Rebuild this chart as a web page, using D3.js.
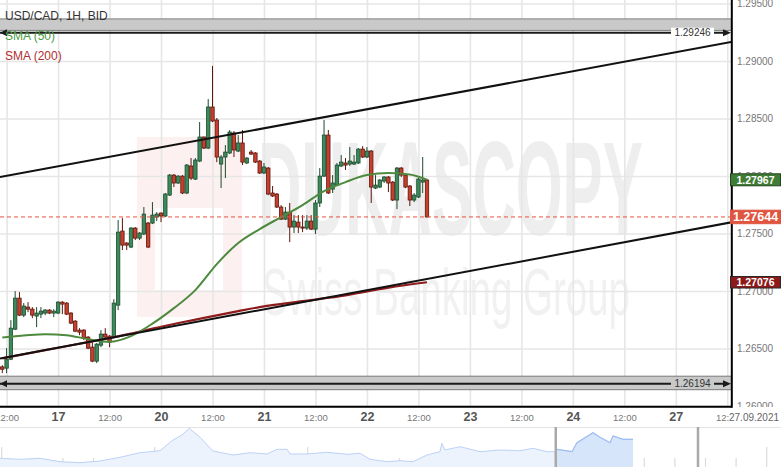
<!DOCTYPE html>
<html><head><meta charset="utf-8">
<script src="https://cdn.jsdelivr.net/npm/d3@7"></script>
<style>
html,body{margin:0;padding:0;background:#fff;}
svg{display:block;font-family:"Liberation Sans",Arial,Helvetica,sans-serif;}
</style></head><body>
<svg id="chart" width="781" height="467"></svg>
<script>
// ---------- DATA ----------
const openP=[1.26340,1.26329,1.26407,1.26668,1.26938,1.26790,1.26860,1.26842,1.26782,1.26799,
 1.26808,1.26834,1.26808,1.26808,1.26903,1.26895,1.26808,1.26738,1.26660,1.26660,
 1.26599,1.26512,1.26390,1.26529,1.26625,1.26608,1.26599,1.26877,1.27521,1.27417,
 1.27382,1.27547,1.27460,1.27495,1.27591,1.27591,1.27643,1.27678,1.27652,1.27834,
 1.28008,1.27939,1.27999,1.27852,1.28087,1.27973,1.28130,1.28339,1.28243,1.28600,
 1.28487,1.28104,1.28165,1.28200,1.28374,1.28217,1.28287,1.28113,1.28208,1.28200,
 1.28130,1.28026,1.28069,1.27852,1.27843,1.27730,1.27625,1.27686,1.27556,1.27599,
 1.27556,1.27547,1.27608,1.27538,1.27765,1.27999,1.28356,1.27886,1.27921,1.28087,
 1.28113,1.28104,1.28104,1.28113,1.28234,1.28165,1.28217,1.27895,1.27904,1.27956,
 1.27991,1.27947,1.27791,1.28069,1.28008,1.27913,1.27791,1.27817,1.27947,1.27965];
const highP=[1.26355,1.26503,1.26747,1.26999,1.26990,1.26895,1.26903,1.26860,1.26860,1.26860,
 1.26842,1.26842,1.26842,1.26912,1.26912,1.26903,1.26816,1.26747,1.26677,1.26668,
 1.26608,1.26555,1.26547,1.26660,1.26677,1.26616,1.26929,1.27617,1.27634,1.27425,
 1.27556,1.27556,1.27512,1.27730,1.27599,1.27773,1.27686,1.27682,1.27852,1.28017,
 1.28017,1.28008,1.28008,1.28104,1.28156,1.28156,1.28469,1.28343,1.28669,1.28957,
 1.28504,1.28182,1.28269,1.28400,1.28391,1.28356,1.28400,1.28165,1.28226,1.28208,
 1.28139,1.28113,1.28078,1.27913,1.27852,1.27747,1.27730,1.27765,1.27660,1.27660,
 1.27660,1.27660,1.27660,1.27791,1.28069,1.28487,1.28400,1.28008,1.28113,1.28182,
 1.28156,1.28252,1.28182,1.28243,1.28260,1.28252,1.28226,1.28008,1.27973,1.27999,
 1.27999,1.27956,1.28078,1.28078,1.28017,1.27921,1.27852,1.27982,1.28165,1.27973];
const lowP=[1.26286,1.26286,1.26399,1.26660,1.26782,1.26773,1.26816,1.26764,1.26686,1.26764,
 1.26790,1.26799,1.26773,1.26799,1.26799,1.26790,1.26712,1.26642,1.26616,1.26573,
 1.26494,1.26381,1.26373,1.26512,1.26573,1.26512,1.26590,1.26834,1.27356,1.27356,
 1.27373,1.27443,1.27443,1.27486,1.27373,1.27582,1.27608,1.27599,1.27643,1.27826,
 1.27904,1.27930,1.27843,1.27843,1.27965,1.27965,1.28121,1.28234,1.28234,1.28469,
 1.28121,1.27895,1.27982,1.28191,1.28165,1.28208,1.28095,1.28104,1.28182,1.28113,
 1.28017,1.28017,1.27834,1.27817,1.27721,1.27617,1.27617,1.27425,1.27504,1.27504,
 1.27512,1.27530,1.27530,1.27495,1.27730,1.27991,1.27843,1.27852,1.27913,1.28078,
 1.28052,1.28087,1.28095,1.28104,1.28156,1.28156,1.27765,1.27886,1.27895,1.27939,
 1.27860,1.27782,1.27712,1.27991,1.27895,1.27739,1.27773,1.27808,1.27852,1.27640];
const closeP=[1.26320,1.26407,1.26677,1.26938,1.26790,1.26869,1.26842,1.26790,1.26808,1.26825,
 1.26834,1.26808,1.26825,1.26903,1.26886,1.26799,1.26721,1.26651,1.26642,1.26590,
 1.26503,1.26390,1.26538,1.26625,1.26599,1.26555,1.26895,1.27512,1.27399,1.27399,
 1.27547,1.27460,1.27504,1.27669,1.27382,1.27660,1.27669,1.27652,1.27843,1.28008,
 1.27939,1.27999,1.27852,1.28095,1.27982,1.28139,1.28339,1.28243,1.28600,1.28478,
 1.28165,1.28165,1.28208,1.28382,1.28226,1.28287,1.28121,1.28156,1.28191,1.28121,
 1.28026,1.28078,1.27843,1.27826,1.27730,1.27625,1.27686,1.27556,1.27608,1.27556,
 1.27547,1.27608,1.27538,1.27765,1.27999,1.28356,1.27852,1.27939,1.28095,1.28121,
 1.28095,1.28130,1.28121,1.28234,1.28165,1.28217,1.27904,1.27921,1.27965,1.27991,
 1.27939,1.27791,1.28069,1.28008,1.27904,1.27791,1.27834,1.27973,1.27965,1.27644];

const sma50Idx=[0,5,10,15,20,25,30,35,40,45,50,55,60,65,70,75,80,85,90,95,99];
const sma50Val=[1.26596,1.26612,1.26625,1.26616,1.26581,1.26558,1.26608,1.26716,1.26851,1.27008,
 1.27234,1.27417,1.27538,1.27643,1.27747,1.27869,1.27947,1.28008,1.28026,1.28013,1.27967];
const sma200Idx=[0,10,20,30,35,45,55,60,70,80,90,99];
const sma200Val=[1.26414,1.26486,1.26555,1.26629,1.26673,1.26751,1.26825,1.26860,1.26912,1.26962,1.27029,1.27076];

const upperTrend=[[-0.54,1.27991],[169.9,1.29165]];
const lowerTrend=[[-0.54,1.26413],[169.9,1.27597]];
const resistance=1.29246, support=1.26194;
const lastPrice=1.27644, sma50Last=1.27967, sma200Last=1.27076;

const yTicks=[1.26,1.265,1.27,1.275,1.28,1.285,1.29,1.295];
const xTickIdx=[1,13,25,37,49,61,73,85,97,109,121,133,145,157,169];
const xTickLabels=["12:00","17","12:00","20","12:00","21","12:00","22","12:00","23","12:00","24","12:00","27","12:00"];
const dateLabel="27.09.2021";

const navHours=[0,8,16,24,32,40,48,56,64,69.2,72.8,75.7,80,85.2,93.2,100,106.8,110.8,114.8,116,122.8,130.8,138.8,144,
 148,154.8,160,165.2,170.8,176,176.7,178,184,192,200,208,213.2,218.8,222,222.8,228.8,230.8,237.2,240,244,245.2,249.2,253.2];
const navVals=[1.26761,1.26674,1.26761,1.26464,1.26376,1.26525,1.26849,1.27251,1.27426,1.28363,1.28800,1.29386,1.28599,1.27400,1.27050,1.27251,
 1.27138,1.27549,1.27549,1.27138,1.27138,1.27286,1.27111,1.27199,1.26674,1.26464,1.26551,1.26464,1.27050,1.27339,1.28074,1.27488,
 1.27776,1.27339,1.27488,1.27426,1.27636,1.27339,1.27339,1.27549,1.27339,1.28126,1.29001,1.28599,1.28126,1.28713,1.28424,1.28424];
const navSel=[222.3,279.2];

// ---------- LAYOUT ----------
const plotW=731, plotH=406;
const svg=d3.select("#chart");
const x=d3.scaleLinear().domain([0,99]).range([2.3,427]);
const y=d3.scaleLinear().domain([1.26,1.29]).range([406,61]);
const candles=openP.map((o,i)=>({i,o,h:highP[i],l:lowP[i],c:closeP[i]}));

const defs=svg.append("defs");
defs.append("clipPath").attr("id","plotClip").append("rect").attr("x",0).attr("y",0).attr("width",plotW).attr("height",plotH);
defs.append("clipPath").attr("id","yClip").append("rect").attr("x",0).attr("y",0).attr("width",60).attr("height",407);

// watermark
const wm=svg.append("g").attr("clip-path","url(#plotClip)");
wm.append("rect").attr("x",137).attr("y",137).attr("width",105).attr("height",180).attr("fill","#fdf0f0");
wm.append("rect").attr("x",155).attr("y",208).attr("width",68).attr("height",82).attr("fill","#ffffff");
wm.append("text").attr("x",258).attr("y",235).attr("font-size",134).attr("font-weight","bold")
  .attr("textLength",385).attr("lengthAdjust","spacingAndGlyphs").attr("fill","#eeeeee").text("DUKASCOPY");
wm.append("text").attr("x",262).attr("y",315).attr("font-size",66)
  .attr("textLength",368).attr("lengthAdjust","spacingAndGlyphs").attr("fill","#f1f1f1").text("Swiss Banking Group");

// grid
const gy=svg.append("g").call(d3.axisLeft(y).tickValues(yTicks).tickSize(-plotW).tickFormat(""));
const gx=svg.append("g").attr("transform",`translate(0,${plotH})`).call(d3.axisBottom(x).tickValues(xTickIdx).tickSize(-plotH).tickFormat(""));
[gy,gx].forEach(g=>{g.select(".domain").remove();g.selectAll("line").attr("stroke","#e6e6e6").attr("stroke-width",1.6);});

const plot=svg.append("g").attr("clip-path","url(#plotClip)");

// horizontal levels
const rY=y(resistance), sY=y(support);
plot.append("rect").attr("x",-1).attr("y",rY-13.8).attr("width",plotW+2).attr("height",11.5)
  .attr("fill","#c9c9c9").attr("stroke","#7f7f7f").attr("stroke-width",1);
plot.append("rect").attr("x",-1).attr("y",sY-7.5).attr("width",plotW+2).attr("height",13.5)
  .attr("fill","#c9c9c9").attr("stroke","#7a7a7a").attr("stroke-width",1);
[[rY,"#ffffff"],[sY,"#c9c9c9"]].forEach(([ly,bg],k)=>{
  plot.append("line").attr("x1",0).attr("x2",plotW-6).attr("y1",ly).attr("y2",ly).attr("stroke","#1a1a1a").attr("stroke-width",2);
  plot.append("path").attr("d",`M0,${ly}L7,${ly-3.5}L7,${ly+3.5}Z`).attr("fill","#1a1a1a");
  plot.append("path").attr("d",`M${plotW},${ly}L${plotW-8},${ly-3.5}L${plotW-8},${ly+3.5}Z`).attr("fill","#1a1a1a");
  plot.append("rect").attr("x",671).attr("y",ly-5).attr("width",43).attr("height",10).attr("fill",bg);
  plot.append("text").attr("x",692.5).attr("y",ly+3.5).attr("text-anchor","middle").attr("font-size",10)
    .attr("fill","#333").text(d3.format(".5f")(k===0?resistance:support));
});

// candles
const cg=plot.append("g");
const up="#3b8a5b", upS="#1d4a2d", dn="#c7402e", dnS="#5e140b";
cg.selectAll("line.w").data(candles).join("line").attr("class","w")
  .attr("x1",d=>x(d.i)).attr("x2",d=>x(d.i)).attr("y1",d=>y(d.h)).attr("y2",d=>y(d.l))
  .attr("stroke",d=>d.c>=d.o?upS:dnS).attr("stroke-width",1);
cg.selectAll("rect.b").data(candles).join("rect").attr("class","b")
  .attr("x",d=>x(d.i)-1.7).attr("width",3.4)
  .attr("y",d=>y(Math.max(d.o,d.c)))
  .attr("height",d=>Math.max(1,y(Math.min(d.o,d.c))-y(Math.max(d.o,d.c))))
  .attr("fill",d=>d.c>=d.o?up:dn).attr("stroke",d=>d.c>=d.o?upS:dnS).attr("stroke-width",0.8);

// SMAs
const line=d3.line().x(d=>x(d[0])).y(d=>y(d[1])).curve(d3.curveMonotoneX);
plot.append("path").attr("d",line(sma200Idx.map((v,i)=>[v,sma200Val[i]]))).attr("fill","none").attr("stroke","#8e1c1c").attr("stroke-width",2.2);
plot.append("path").attr("d",line(sma50Idx.map((v,i)=>[v,sma50Val[i]]))).attr("fill","none").attr("stroke","#4e8a3e").attr("stroke-width",2);

// trend lines
const tl=d3.line().x(d=>x(d[0])).y(d=>y(d[1]));
[upperTrend,lowerTrend].forEach(t=>plot.append("path").attr("d",tl(t)).attr("fill","none").attr("stroke","#111").attr("stroke-width",2));

// price line
plot.append("line").attr("x1",0).attr("x2",plotW).attr("y1",y(lastPrice)).attr("y2",y(lastPrice))
  .attr("stroke","#e5533d").attr("stroke-width",1).attr("stroke-dasharray","4,3");

// legend
const lg=svg.append("g").attr("font-size",12);
lg.append("text").attr("x",5).attr("y",19.5).attr("fill","#333").text("USD/CAD, 1H, BID");
lg.append("text").attr("x",5).attr("y",39.5).attr("fill","#4e9a44").text("SMA (50)");
lg.append("text").attr("x",5).attr("y",59.5).attr("fill","#b03030").text("SMA (200)");

// axes borders
svg.append("line").attr("x1",0).attr("x2",plotW+1).attr("y1",406.8).attr("y2",406.8).attr("stroke","#000").attr("stroke-width",2);
svg.append("line").attr("x1",731.8).attr("x2",731.8).attr("y1",0).attr("y2",407.8).attr("stroke","#000").attr("stroke-width",2);

// y axis
const ya=svg.append("g").attr("transform",`translate(${plotW},0)`).attr("clip-path","url(#yClip)")
  .call(d3.axisRight(y).tickValues(yTicks).tickFormat(d3.format(".5f")).tickSize(0).tickPadding(6));
ya.select(".domain").remove();
ya.selectAll("text").attr("font-size",10).attr("fill","#777").attr("font-family",null);

// value boxes
function box(v,fill,stroke,fs,h){
  const cy=y(v);
  svg.append("rect").attr("x",730.5).attr("y",cy-h/2).attr("width",50).attr("height",h).attr("fill",fill).attr("stroke",stroke).attr("stroke-width",1);
  svg.append("text").attr("x",755.5).attr("y",cy+fs*0.36).attr("text-anchor","middle").attr("font-size",fs)
    .attr("font-weight","bold").attr("fill","#fff").text(d3.format(".5f")(v));
}
box(sma50Last,"#3f7c35","#26461f",10.5,12);
box(sma200Last,"#8d1a1a","#2a2a2a",10.5,11.5);
box(lastPrice,"#e0553f","#e0553f",12.5,13.5);

// x axis
const xa=svg.append("g").attr("transform",`translate(0,${plotH})`)
  .call(d3.axisBottom(x).tickValues(xTickIdx).tickFormat((d,i)=>xTickLabels[i]).tickSize(0));
xa.select(".domain").remove();
xa.selectAll("text").attr("font-family",null).attr("y",14.5).attr("dy",0)
  .attr("font-size",(d,i)=>xTickLabels[i].includes(":")?9.5:12.5)
  .attr("font-weight",(d,i)=>xTickLabels[i].includes(":")?"normal":"bold")
  .attr("fill",(d,i)=>xTickLabels[i].includes(":")?"#777":"#555");
svg.append("rect").attr("x",729).attr("y",409).attr("width",52).attr("height",14).attr("fill","#fff");
svg.append("text").attr("x",729).attr("y",420.5).attr("text-anchor","start").attr("font-size",10).attr("fill","#666").text(dateLabel);

// navigator
const navX=d3.scaleLinear().domain([0,312.4]).range([0,781]);
const navY=d3.scaleLinear().domain([1.26,1.295]).range([467,427]);
const nav=svg.append("g");
nav.append("line").attr("x1",0).attr("x2",781).attr("y1",427.5).attr("y2",427.5).attr("stroke","#e4e4e4");
d3.range(0,26).forEach(k=>{
  const h=0.68+12.24*k;
  nav.append("line").attr("x1",navX(h)).attr("x2",navX(h)).attr("y1",k%5===0?447:458).attr("y2",467)
    .attr("stroke","#dcdcdc").attr("stroke-width",1.2);
});
const navPts=navHours.map((h,i)=>[h,navVals[i]]);
const area=d3.area().x(d=>navX(d[0])).y0(467).y1(d=>navY(d[1]));
const nline=d3.line().x(d=>navX(d[0])).y(d=>navY(d[1]));
nav.append("path").attr("d",area(navPts)).attr("fill","#ebf2fd").attr("opacity",0.95);
nav.append("path").attr("d",nline(navPts)).attr("fill","none").attr("stroke","#bcd2f6").attr("stroke-width",1);
defs.append("clipPath").attr("id","selClip").append("rect").attr("x",navX(navSel[0])).attr("y",420)
  .attr("width",navX(navSel[1])-navX(navSel[0])).attr("height",50);
const sel=nav.append("g").attr("clip-path","url(#selClip)");
sel.append("path").attr("d",area(navPts)).attr("fill","#d7e5fb");
sel.append("path").attr("d",nline(navPts)).attr("fill","none").attr("stroke","#9ebdf1").attr("stroke-width",1.2);
navSel.forEach(h=>{
  nav.append("line").attr("x1",navX(h)).attr("x2",navX(h)).attr("y1",427).attr("y2",467)
    .attr("stroke","#a9a9a9").attr("stroke-width",2.5);
});
</script>
</body></html>
